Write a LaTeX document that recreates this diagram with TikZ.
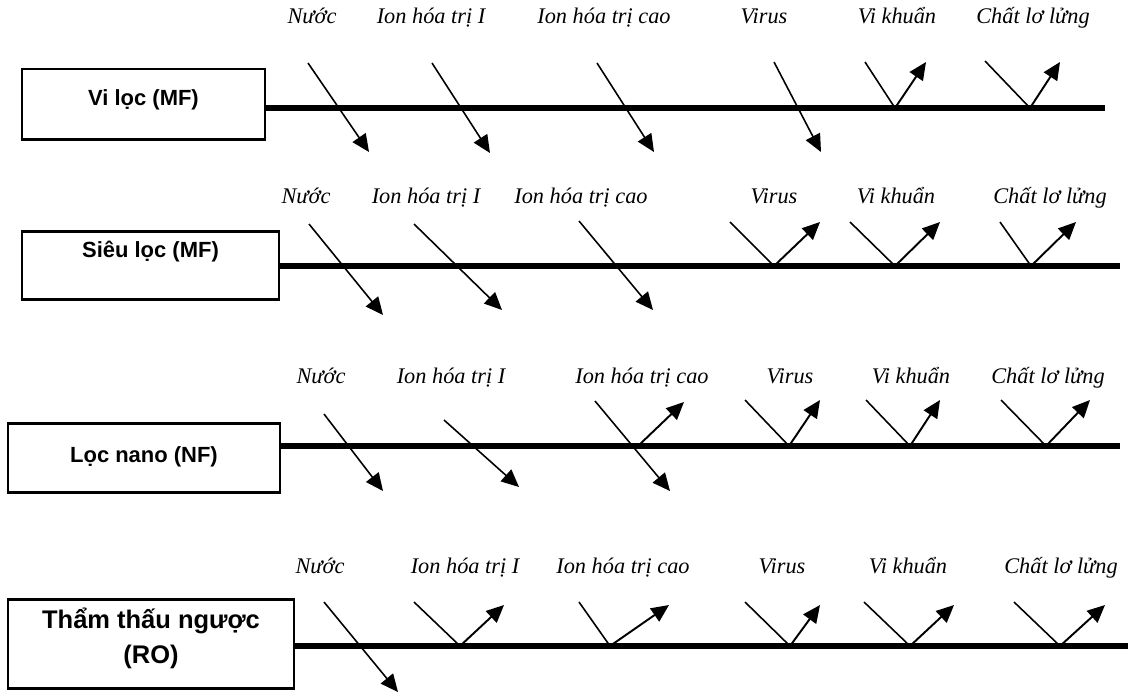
\documentclass[tikz,border=0pt]{standalone}
\usepackage{fontspec}
\setmainfont{Liberation Serif}
\setsansfont{Liberation Sans}
\usetikzlibrary{arrows.meta,fit}

\begin{document}
\begin{tikzpicture}[x=0.02cm,y=-0.02cm,>={Triangle[length=10pt,width=9pt]},
  mem/.style={draw,line width=1.7pt,inner sep=0pt},
  memname/.style={font=\sffamily\bfseries\fontsize{12.5}{14}\selectfont,anchor=base},
  solute/.style={font=\itshape\fontsize{12.7}{15}\selectfont,anchor=base},
  feed/.style={line width=0.9pt},
  rejects/.style={line width=1.1pt,->},
  sheet/.style={line width=3.2pt}]
  \useasboundingbox (0,0) rectangle (1128,694);

  % Vi loc
  \node[mem,fit={(22,69) (265,139)}] (vl) {};
  \node[memname] (vl-t) at (143.5,105) {Vi lọc (MF)};
  \coordinate (vl-end) at (1105,108);
  \draw[sheet] (vl.east |- vl-end) -- (vl-end);
  \foreach \i/\x/\txt in {1/312/Nước, 2/431/Ion hóa trị I, 3/604/Ion hóa trị cao,
      4/764/Virus, 5/897/Vi khuẩn, 6/1033/Chất lơ lửng}
    \node[solute] (vl-l\i) at (\x,23) {\txt};
  \foreach \i/\sx/\sy/\ex/\ey in {1/308/63/369/152, 2/432/63/490/153, 3/597/63/654/152, 4/774/62/821/152} {
    \coordinate (vl-s\i) at (\sx,\sy);
    \coordinate (vl-e\i) at (\ex,\ey);
    \draw[feed,->] (vl-s\i) -- (vl-e\i);
  }
  \foreach \i/\sx/\sy/\hx/\ox/\oy in {5/865/62/895/926/62, 6/985/61/1030/1060/62} {
    \coordinate (vl-s\i) at (\sx,\sy);
    \coordinate (vl-h\i) at (\hx,108);
    \coordinate (vl-o\i) at (\ox,\oy);
    \draw[feed] (vl-s\i) -- (vl-h\i);
    \draw[rejects] (vl-h\i) -- (vl-o\i);
  }

  % Sieu loc
  \node[mem,fit={(22,231) (279,299)}] (sl) {};
  \node[memname] (sl-t) at (150.5,257) {Siêu lọc (MF)};
  \coordinate (sl-end) at (1120,266);
  \draw[sheet] (sl.east |- sl-end) -- (sl-end);
  \foreach \i/\x/\txt in {1/306/Nước, 2/426/Ion hóa trị I, 3/581/Ion hóa trị cao,
      4/774/Virus, 5/896/Vi khuẩn, 6/1050/Chất lơ lửng}
    \node[solute] (sl-l\i) at (\x,203) {\txt};
  \foreach \i/\sx/\sy/\ex/\ey in {1/309/224/383/315, 2/414/224/502/310, 3/579/221/653/310} {
    \coordinate (sl-s\i) at (\sx,\sy);
    \coordinate (sl-e\i) at (\ex,\ey);
    \draw[feed,->] (sl-s\i) -- (sl-e\i);
  }
  \foreach \i/\sx/\sy/\hx/\ox/\oy in {4/730/222/774/820/222, 5/850/222/895/940/222, 6/1000/222/1031/1076/222} {
    \coordinate (sl-s\i) at (\sx,\sy);
    \coordinate (sl-h\i) at (\hx,266);
    \coordinate (sl-o\i) at (\ox,\oy);
    \draw[feed] (sl-s\i) -- (sl-h\i);
    \draw[rejects] (sl-h\i) -- (sl-o\i);
  }

  % Loc nano
  \node[mem,fit={(8,423) (280,492)}] (nf) {};
  \node[memname] (nf-t) at (144,462) {Lọc nano (NF)};
  \coordinate (nf-end) at (1120,446);
  \draw[sheet] (nf.east |- nf-end) -- (nf-end);
  \foreach \i/\x/\txt in {1/321/Nước, 2/451/Ion hóa trị I, 3/642/Ion hóa trị cao,
      4/790/Virus, 5/911/Vi khuẩn, 6/1048/Chất lơ lửng}
    \node[solute] (nf-l\i) at (\x,383) {\txt};
  \foreach \i/\sx/\sy/\ex/\ey in {1/324/414/383/491, 2/444/420/519/487, 3/595/401/670/491} {
    \coordinate (nf-s\i) at (\sx,\sy);
    \coordinate (nf-e\i) at (\ex,\ey);
    \draw[feed,->] (nf-s\i) -- (nf-e\i);
  }
  \coordinate (nf-h3) at (638,446);
  \coordinate (nf-o3) at (684,402);
  \draw[rejects] (nf-h3) -- (nf-o3);
  \foreach \i/\sx/\sy/\hx/\ox/\oy in {4/745/400/789/820/400, 5/866/400/910/940/400, 6/1001/400/1046/1090/400} {
    \coordinate (nf-s\i) at (\sx,\sy);
    \coordinate (nf-h\i) at (\hx,446);
    \coordinate (nf-o\i) at (\ox,\oy);
    \draw[feed] (nf-s\i) -- (nf-h\i);
    \draw[rejects] (nf-h\i) -- (nf-o\i);
  }

  % Tham thau nguoc
  \node[mem,fit={(8,599) (294,688)}] (ro) {};
  \node[memname,anchor=center,align=center,font=\sffamily\bfseries\fontsize{14.5}{20}\selectfont]
    (ro-t) at (151,638) {Thẩm thấu ngược\\(RO)};
  \coordinate (ro-end) at (1128,646);
  \draw[sheet] (ro.east |- ro-end) -- (ro-end);
  \foreach \i/\x/\txt in {1/320/Nước, 2/465/Ion hóa trị I, 3/623/Ion hóa trị cao,
      4/782/Virus, 5/908/Vi khuẩn, 6/1061/Chất lơ lửng}
    \node[solute] (ro-l\i) at (\x,573) {\txt};
  \coordinate (ro-s1) at (324,602);
  \coordinate (ro-e1) at (398,692);
  \draw[feed,->] (ro-s1) -- (ro-e1);
  \foreach \i/\sx/\sy/\hx/\ox/\oy in {2/414/602/460/504/605, 3/579/602/610/669/605, 4/745/602/790/820/605,
      5/864/602/910/954/605, 6/1014/602/1060/1105/605} {
    \coordinate (ro-s\i) at (\sx,\sy);
    \coordinate (ro-h\i) at (\hx,646);
    \coordinate (ro-o\i) at (\ox,\oy);
    \draw[feed] (ro-s\i) -- (ro-h\i);
    \draw[rejects] (ro-h\i) -- (ro-o\i);
  }
\end{tikzpicture}
\end{document}
